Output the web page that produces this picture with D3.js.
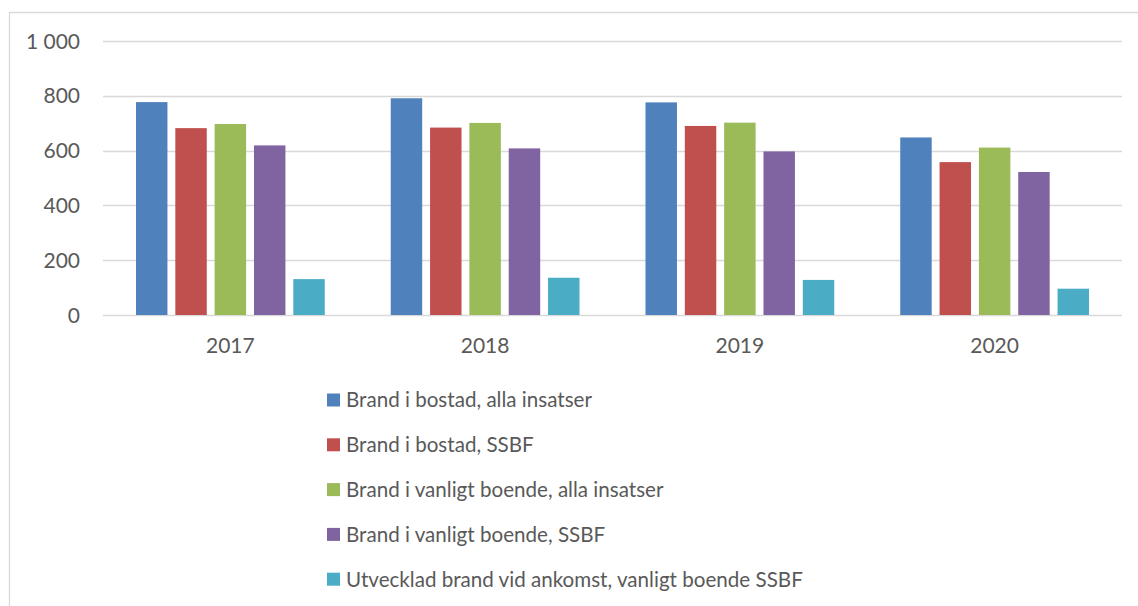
<!DOCTYPE html>
<html lang="sv">
<head>
    <meta charset="UTF-8">
    <title>Brand i bostad</title>
    <script src="https://d3js.org/d3.v7.min.js"></script>
    <style>
        body { margin: 0; background: #fff; }
        text {
            font-family: Lato, 'Open Sans', sans-serif;
            fill: #595959;
        }
    </style>
</head>
<body>
<script>
    const width  = 1138;
    const height = 606;

    const years = ['2017', '2018', '2019', '2020'];
    const series = [
        'Brand i bostad, alla insatser',
        'Brand i bostad, SSBF',
        'Brand i vanligt boende, alla insatser',
        'Brand i vanligt boende, SSBF',
        'Utvecklad brand vid ankomst, vanligt boende SSBF'
    ];
    const colors = ['#4F81BD', '#C0504D', '#9BBB59', '#8064A2', '#4BACC6'];

    // one array per series, in year order
    const bostadAlla    = [777, 791, 776, 648];
    const bostadSSBF    = [682, 684, 690, 558];
    const vanligtAlla   = [697, 701, 702, 611];
    const vanligtSSBF   = [619, 608, 597, 522];
    const utvecklad     = [131, 136, 128, 96];
    const values = [bostadAlla, bostadSSBF, vanligtAlla, vanligtSSBF, utvecklad];

    const yTicks = [0, 200, 400, 600, 800, 1000];

    const plot = {left: 103, right: 1122, top: 41, bottom: 315};

    const svg = d3.select("body").append("svg")
            .attr("width", width).attr("height", height);

    // outer frame (top and left edges visible)
    svg.append("path")
            .attr("d", "M9.5," + height + "V12.5H" + width)
            .attr("fill", "none")
            .attr("stroke", "#d9d9d9")
            .attr("stroke-width", 1.3);

    const x0 = d3.scaleBand()
            .domain(years)
            .range([plot.left, plot.right])
            .paddingInner(0.259)
            .paddingOuter(0.1295);

    const x1 = d3.scaleBand()
            .domain(series)
            .range([0, x0.bandwidth()])
            .paddingInner(0.2);

    const y = d3.scaleLinear()
            .domain([0, 1000])
            .range([plot.bottom, plot.top]);

    // gridlines
    svg.append("g")
            .selectAll("line")
            .data(yTicks)
            .enter().append("line")
            .attr("x1", plot.left).attr("x2", plot.right)
            .attr("y1", d => Math.round(y(d)) + 0.5)
            .attr("y2", d => Math.round(y(d)) + 0.5)
            .attr("stroke", "#d9d9d9")
            .attr("stroke-width", 1.5);

    // y axis labels
    const fmt = d => d3.format(",")(d).replace(",", " ");
    svg.append("g")
            .selectAll("text")
            .data(yTicks)
            .enter().append("text")
            .attr("x", 80)
            .attr("y", d => y(d))
            .attr("dy", "0.36em")
            .attr("text-anchor", "end")
            .style("font-size", "21px")
            .text(fmt);

    // bars
    series.forEach((s, i) => {
        svg.append("g")
                .attr("fill", colors[i])
                .selectAll("rect")
                .data(years.map((yr, j) => ({year: yr, value: values[i][j]})))
                .enter().append("rect")
                .attr("x", d => x0(d.year) + x1(s))
                .attr("width", x1.bandwidth())
                .attr("y", d => y(d.value))
                .attr("height", d => y(0) - y(d.value));
    });

    // x axis labels
    svg.append("g")
            .selectAll("text")
            .data(years)
            .enter().append("text")
            .attr("x", d => x0(d) + x0.bandwidth() / 2)
            .attr("y", 353)
            .attr("text-anchor", "middle")
            .style("font-size", "21px")
            .text(d => d);

    // legend
    const legend = svg.append("g")
            .selectAll("g")
            .data(series)
            .enter().append("g")
            .attr("transform", (d, i) => "translate(" + [327, 400 + i * 44.8] + ")");

    legend.append("rect")
            .attr("x", 0).attr("y", -6.5)
            .attr("width", 13).attr("height", 13)
            .attr("fill", (d, i) => colors[i]);

    legend.append("text")
            .attr("x", 19)
            .attr("dy", "0.36em")
            .style("font-size", "20.6px")
            .text(d => d);
</script>
</body>
</html>
